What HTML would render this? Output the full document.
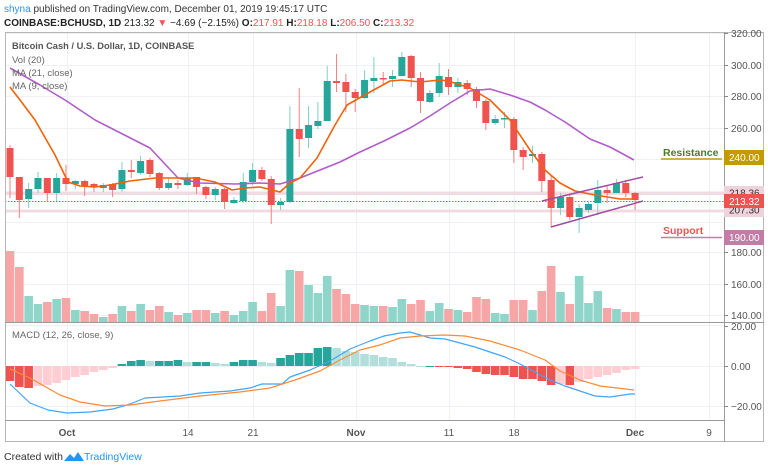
<!DOCTYPE html>
<html><head><meta charset="utf-8"><style>
body{margin:0;background:#fff;width:768px;height:470px;overflow:hidden;font-family:"Liberation Sans",sans-serif}
svg{position:absolute;left:0;top:0}
</style></head><body>
<svg id="s" width="768" height="470" xmlns="http://www.w3.org/2000/svg" font-family="Liberation Sans, sans-serif">
<rect width="768" height="470" fill="#fff"/>
<g id="grid"></g>
<g id="bands">
<rect x="5" y="192" width="719" height="3" fill="#f1dbe3"/>
<rect x="5" y="209.5" width="719" height="3" fill="#f1dbe3"/>
<line x1="5" y1="201.5" x2="724" y2="201.5" stroke="#ef5350" stroke-width="1" stroke-dasharray="1.5,1.5"/>
</g>
<g id="vol"></g>
<g id="hist"></g>
<g id="candles"></g>
<g id="lines"></g>
<line x1="542" y1="201" x2="643" y2="177" stroke="#a04aa0" stroke-width="1.5"/>
<line x1="551" y1="227" x2="643" y2="201" stroke="#a04aa0" stroke-width="1.5"/>
<rect x="5.5" y="32.5" width="758" height="409" fill="none" stroke="#b7b7b7"/>
<line x1="5" y1="322.5" x2="764" y2="322.5" stroke="#9a9a9a"/>
<line x1="5" y1="420.5" x2="724" y2="420.5" stroke="#9a9a9a"/>
<line x1="724.5" y1="32" x2="724.5" y2="442" stroke="#9a9a9a"/>
<g id="ticks" font-size="10" fill="#555"></g>
<text x="4" y="12" font-size="10" fill="#333"><tspan fill="#2196f3">shyna</tspan> published on TradingView.com, December 01, 2019 19:45:17 UTC</text>
<text x="4" y="26" font-size="10" font-weight="bold" fill="#222">COINBASE:BCHUSD, 1D <tspan font-weight="normal">213.32 </tspan><tspan fill="#ef5350">▼</tspan><tspan font-weight="normal"> −4.69 (−2.15%) </tspan>O:<tspan fill="#ef5350" font-weight="normal">217.91</tspan> H:<tspan fill="#ef5350" font-weight="normal">218.18</tspan> L:<tspan fill="#ef5350" font-weight="normal">206.50</tspan> C:<tspan fill="#ef5350" font-weight="normal">213.32</tspan></text>
<text x="12" y="49" font-size="9.3" font-weight="bold" fill="#555">Bitcoin Cash / U.S. Dollar, 1D, COINBASE</text>
<text x="12" y="63" font-size="9.5" fill="#666">Vol (20)</text>
<text x="12" y="76" font-size="9.5" fill="#666">MA (21, close)</text>
<text x="12" y="89" font-size="9.5" fill="#666">MA (9, close)</text>
<text x="12" y="338" font-size="9.5" fill="#666">MACD (12, 26, close, 9)</text>
<text x="663" y="156" font-size="10.5" font-weight="bold" fill="#4a7a2a">Resistance</text>
<line x1="661" y1="159" x2="722" y2="159" stroke="#c49a10" stroke-width="1.5"/>
<text x="663" y="234" font-size="10.5" font-weight="bold" fill="#ef5350">Support</text>
<line x1="661" y1="237.5" x2="722" y2="237.5" stroke="#c080a8" stroke-width="1.5"/>
<g font-size="10">
<rect x="724" y="150" width="40" height="15" fill="#c49a00"/>
<text x="729" y="161" fill="#fff">240.00</text>
<rect x="724" y="186" width="40" height="14" fill="#f0d2dd"/>
<text x="729" y="196.5" fill="#333">218.36</text>
<rect x="724" y="203" width="40" height="14" fill="#f0d2dd"/>
<text x="729" y="213.5" fill="#333">207.30</text>
<rect x="724" y="194" width="40" height="14" fill="#ef5350"/>
<text x="729" y="205" fill="#fff">213.32</text>
<rect x="724" y="230" width="40" height="15" fill="#c47ca6"/>
<text x="729" y="241" fill="#fff">190.00</text>
</g>
<g font-size="10" fill="#555" text-anchor="middle">
<text x="67" y="436" font-weight="bold">Oct</text>
<text x="188" y="436">14</text>
<text x="253" y="436">21</text>
<text x="356" y="436" font-weight="bold">Nov</text>
<text x="449" y="436">11</text>
<text x="514" y="436">18</text>
<text x="635" y="436" font-weight="bold">Dec</text>
<text x="709" y="436">9</text>
</g>
<text x="4" y="460" font-size="10.5" fill="#333">Created with</text>
<path d="M64 461 l6 -7 l4 4 l4 -6 l6 9 z" fill="#2196f3"/>
<text x="84" y="460" font-size="10.5" fill="#2196f3">TradingView</text>
</svg>
<script>
const NS="http://www.w3.org/2000/svg";
function el(p,t,a){const e=document.createElementNS(NS,t);for(const k in a)e.setAttribute(k,a[k]);document.getElementById(p).appendChild(e);return e;}
const X=i=>10+i*9.33;
[67,188,253,356,449,514,635,709].forEach(x=>el("grid","line",{x1:x+.5,x2:x+.5,y1:32,y2:420,stroke:"#edf1f5"}));
[33,65,96,128,159,191,222,252,284,315,325,366,406].forEach(y=>el("grid","line",{x1:5,x2:724,y1:y+.5,y2:y+.5,stroke:"#edf1f5"}));
const tk=[[33,"320.00"],[65,"300.00"],[96,"280.00"],[128,"260.00"],[252,"180.00"],[284,"160.00"],[315,"140.00"],[326,"20.00"],[366,"0.00"],[406,"−20.00"]];
tk.forEach(([y,t])=>{el("ticks","line",{x1:724,x2:728,y1:y+.5,y2:y+.5,stroke:"#888"});const e=el("ticks","text",{x:731,y:y+4});e.textContent=t;});
const C=[[148,177,145,198],[177,200,177,218],[199,189,183,208],[189,178,172,193],[178,193,178,202],[193,178,173,201],[178,184,165,191],[184,181,180,189],[181,186,180,196],[184,187,183,192],[188,185,183,192],[184,190,183,197],[189,170,162,192],[170,172,160,178],[173,161,156,175],[160,174,158,177],[173,188,172,190],[188,183,178,190],[183,185,180,189],[185,178,173,186],[177,187,177,194],[187,195,186,199],[195,189,187,200],[189,202,188,209],[203,200,197,204],[201,182,173,203],[182,170,163,185],[170,179,167,181],[179,205,176,224],[205,202,198,210],[202,129,106,203],[129,139,88,157],[138,125,106,148],[126,121,102,129],[121,81,66,121],[81,83,54,92],[82,92,74,112],[92,98,89,112],[98,80,70,99],[81,78,57,93],[78,79,72,85],[79,76,70,87],[76,57,52,76],[56,78,55,87],[78,101,72,113],[102,93,90,103],[93,76,63,97],[77,87,69,95],[87,82,78,93],[83,89,80,95],[89,101,87,108],[101,123,99,130],[123,119,115,125],[119,118,112,128],[119,150,117,163],[150,157,147,170],[156,154,146,163],[154,181,152,192],[180,208,175,227],[208,197,193,215],[197,217,195,220],[217,208,204,233],[210,204,201,213],[203,190,180,215],[190,193,185,203],[193,183,179,193],[183,193,180,197],[193,200,192,210]];
C.forEach((c,i)=>{const x=X(i),up=c[1]<c[0],col=up?"#26a69a":"#ef5350";
el("candles","line",{x1:x,x2:x,y1:c[2],y2:c[3],stroke:up?"#7fcfc4":"#f08080","stroke-width":1});
el("candles","rect",{x:x-3.5,y:Math.min(c[0],c[1]),width:7,height:Math.max(1.5,Math.abs(c[1]-c[0])),fill:col});});
const V=[[251,0],[267,0],[296,1],[304,1],[302,0],[299,1],[298,0],[310,1],[311,0],[314,0],[317,1],[314,0],[306,1],[311,0],[304,1],[310,0],[306,0],[312,1],[315,0],[313,1],[310,0],[310,0],[313,1],[311,0],[315,1],[311,1],[302,1],[311,0],[293,0],[306,1],[270,1],[271,0],[285,1],[293,1],[276,1],[289,0],[294,0],[304,0],[305,1],[306,1],[306,0],[307,1],[299,1],[304,0],[300,0],[311,1],[303,1],[309,0],[310,1],[312,0],[297,0],[299,0],[313,1],[314,1],[300,0],[300,0],[310,1],[291,0],[266,0],[292,1],[304,0],[276,1],[303,1],[291,1],[308,0],[309,1],[312,0],[312,0]];
V.forEach((v,i)=>el("vol","rect",{x:X(i)-4.3,y:v[0],width:8.6,height:322-v[0],fill:v[1]?"#8fd5ca":"#f6a6a6"}));
const H=[381,387,388,386,385,383,380,377,375,372,370,368,364,361,360,361,361,361,360,362,362,362,363,364,362,360,360,362,363,358,355,353,353,348,347,348,351,352,354,355,357,358,362,364,366,366,367,367,368,369,372,374,375,375,377,379,379,381,385,384,385,382,379,377,375,373,370,369];
let prev=366;
H.forEach((h,i)=>{const neg=h>366;const grow=neg?h>=prev:h<=prev;prev=h;
const col=neg?(grow?"#ef5350":"#ffcdd2"):(grow?"#26a69a":"#b2dfdb");
el("hist","rect",{x:X(i)-4.3,y:Math.min(h,366),width:8.6,height:Math.max(1,Math.abs(h-366)),fill:col});});
function pl(pts,col,w){el("lines","polyline",{points:pts.map(p=>p.join(",")).join(" "),fill:"none",stroke:col,"stroke-width":w,"stroke-linejoin":"round"});}
pl([[10,68],[40,85],[65,100],[95,120],[150,148],[178,178],[200,183],[235,184],[260,183],[280,184],[300,178],[320,170],[340,162],[360,152],[384,141],[410,128],[430,116],[450,103],[470,91],[490,89],[510,95],[530,102],[545,110],[565,122],[590,139],[610,147],[634,160]],"#b05cc8",1.6);
pl([[10,87],[20,100],[35,120],[55,155],[68,182],[80,186],[95,187],[110,185],[130,181],[155,178],[195,178],[215,182],[232,190],[245,188],[260,187],[280,192],[290,183],[300,178],[317,158],[335,125],[347,105],[370,92],[390,81],[402,80],[420,82],[440,80],[448,81],[470,88],[490,100],[510,120],[530,150],[545,170],[560,183],[575,191],[595,195],[620,199],[634,199]],"#f0620a",1.6);
pl([[10,384],[30,403],[48,410],[67,413],[90,412],[113,409],[130,404],[145,398],[180,396],[200,393],[230,391],[250,388],[262,384],[282,384],[290,377],[310,370],[330,361],[350,349],[370,341],[384,336],[400,333],[410,332],[430,338],[445,339],[460,343],[475,347],[490,352],[505,357],[520,364],[535,372],[550,380],[565,386],[580,391],[595,396],[610,397],[630,394],[635,394]],"#42a5f5",1.2);
pl([[10,369],[30,378],[60,395],[80,402],[105,406],[130,405],[160,401],[200,396],[240,392],[270,388],[295,380],[320,371],[340,360],[360,350],[380,345],[400,338],[420,336],[445,335],[465,336],[490,341],[520,350],[545,360],[560,371],[580,380],[600,386],[634,390]],"#ff8a35",1.2);
</script>
</body></html>
